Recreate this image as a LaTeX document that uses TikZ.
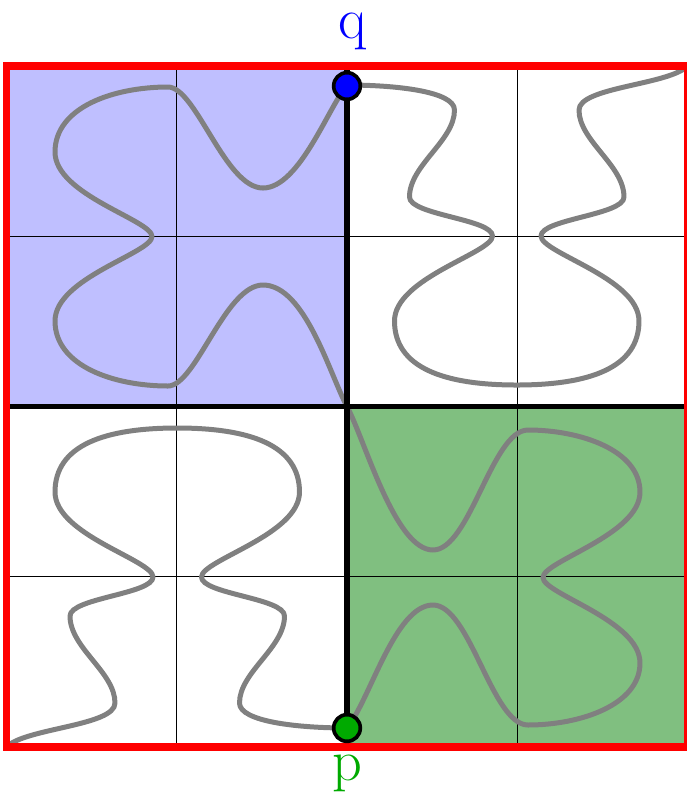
\documentclass[tikz,border=0pt]{standalone}
\definecolor{qblue}{RGB}{0,0,255}
\definecolor{pgreen}{RGB}{0,170,0}
\definecolor{bluefill}{RGB}{191,191,255}
\definecolor{greenfill}{RGB}{128,191,128}
\definecolor{curvegray}{RGB}{128,128,128}
\begin{document}
\begin{tikzpicture}[x=0.3pt,y=-0.3pt,
  curve/.style={draw=curvegray, line width=1.5pt, line cap=round, line join=round},
  gridthin/.style={draw=black, line width=0.4pt},
  thickline/.style={draw=black, line width=1.6pt},
  border/.style={draw=red, line width=2.2pt},
  dot/.style={circle, draw=black, line width=1.1pt, minimum size=8pt, inner sep=0pt},
  lbl/.style={font=\fontsize{17.5}{20}\selectfont, anchor=base, inner sep=0pt}]
\useasboundingbox (0,0) rectangle (687,800);
\coordinate (TL) at (6.5,66);
\coordinate (TR) at (687.5,66);
\coordinate (BL) at (6.5,747);
\coordinate (BR) at (687.5,747);
\coordinate (C) at (347,406.5);
\coordinate (CT) at (347,66);
\coordinate (CB) at (347,747);
\coordinate (CL) at (6.5,406.5);
\coordinate (CR) at (687.5,406.5);
\coordinate (P) at (347,728);
\coordinate (Q) at (347,86);
% fills
\fill[bluefill] (TL) rectangle (C);
\fill[greenfill] (C) rectangle (BR);
% thin grid
\draw[gridthin] (176.75,66) -- (176.75,747);
\draw[gridthin] (517.25,66) -- (517.25,747);
\draw[gridthin] (6.5,236.25) -- (687.5,236.25);
\draw[gridthin] (6.5,576.75) -- (687.5,576.75);
% curve: lower-left quadrant
\draw[curve] (BL) .. controls (25,728) and (115,726) .. (115,703)
  .. controls (115,672) and (70,648) .. (70,616)
  .. controls (70,598) and (153,594) .. (153,577)
  .. controls (153,560) and (55,535) .. (55,492)
  .. controls (55,445) and (105,428) .. (177.25,428)
  .. controls (249.5,428) and (299.5,445) .. (299.5,492)
  .. controls (299.5,535) and (201.5,560) .. (201.5,577)
  .. controls (201.5,594) and (284.5,598) .. (284.5,616)
  .. controls (284.5,648) and (239.5,672) .. (239.5,703)
  .. controls (239.5,722) and (300,728) .. (P);
% curve: upper-right quadrant (lower-left rotated by 180 degrees)
\begin{scope}[rotate around={180:(C)}]
\draw[curve] (6.5,747) .. controls (25,728) and (115,726) .. (115,703)
  .. controls (115,672) and (70,648) .. (70,616)
  .. controls (70,598) and (153,594) .. (153,577)
  .. controls (153,560) and (55,535) .. (55,492)
  .. controls (55,445) and (105,428) .. (177.25,428)
  .. controls (249.5,428) and (299.5,445) .. (299.5,492)
  .. controls (299.5,535) and (201.5,560) .. (201.5,577)
  .. controls (201.5,594) and (284.5,598) .. (284.5,616)
  .. controls (284.5,648) and (239.5,672) .. (239.5,703)
  .. controls (239.5,722) and (300,728) .. (347,728);
\end{scope}
% curve: lower-right (green) quadrant
\draw[curve] (P) .. controls (370,700) and (395,605) .. (433,605)
  .. controls (470,605) and (492,725) .. (528,725)
  .. controls (580,725) and (640,705) .. (640,663)
  .. controls (640,620) and (543,594) .. (543,577.5)
  .. controls (543,561) and (640,535) .. (640,492)
  .. controls (640,450) and (580,430) .. (528,430)
  .. controls (492,430) and (470,550) .. (433,550)
  .. controls (395,550) and (365,440) .. (C);
% curve: upper-left (blue) quadrant
\draw[curve] (C) .. controls (330,375) and (305,285) .. (263,285)
  .. controls (225,285) and (196,386) .. (168,386)
  .. controls (114,386) and (55,366) .. (55,321)
  .. controls (55,278) and (152,253) .. (152,236.5)
  .. controls (152,220) and (55,195) .. (55,152)
  .. controls (55,107) and (114,87) .. (168,87)
  .. controls (196,87) and (225,188) .. (263,188)
  .. controls (300,188) and (330,103) .. (Q);
% thick black lines
\draw[thickline] (CT) -- (CB);
\draw[thickline] (CL) -- (CR);
% red border
\draw[border] (TL) rectangle (BR);
% dots
\node[dot, fill=qblue] (q) at (Q) {};
\node[dot, fill=pgreen] (p) at (P) {};
% labels
\node[lbl, text=qblue] (qlabel) at (353,38) {q};
\node[lbl, text=pgreen] (plabel) at (347,780) {p};
\end{tikzpicture}
\end{document}
